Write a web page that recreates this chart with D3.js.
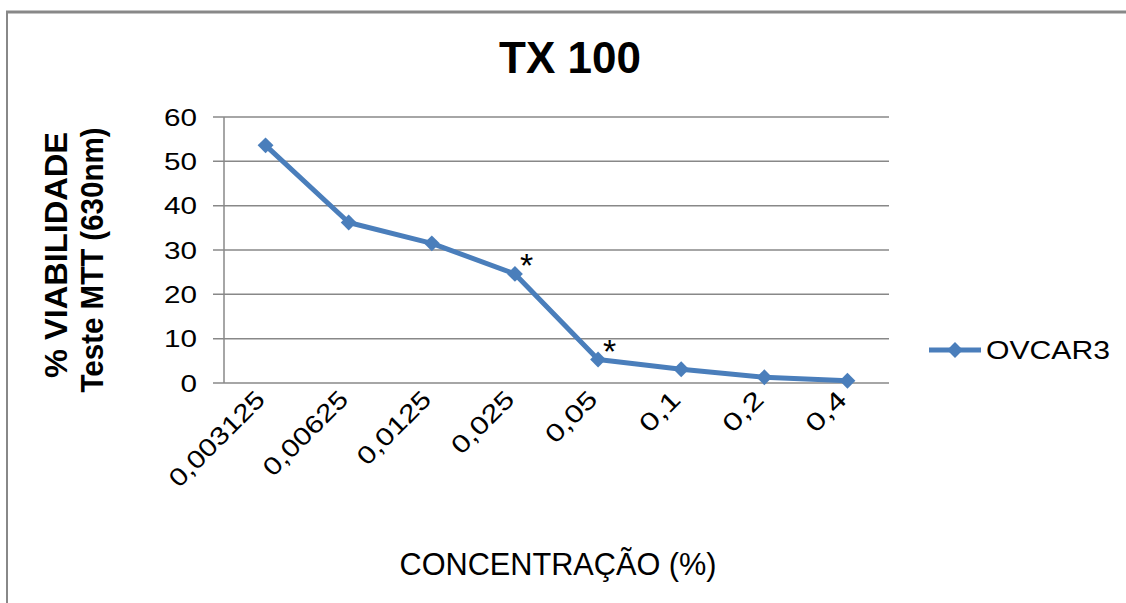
<!DOCTYPE html>
<html><head><meta charset="utf-8">
<script src="https://cdn.jsdelivr.net/npm/d3@7"></script>
<style>body{margin:0;background:#fff;} text{font-family:"Liberation Sans",Arial,sans-serif;}</style>
</head><body>
<svg id="c" width="1126" height="603"></svg>
<script>
const categories = ["0,003125","0,00625","0,0125","0,025","0,05","0,1","0,2","0,4"];
const values = [53.6, 36.2, 31.5, 24.6, 5.3, 3.1, 1.3, 0.5];
const significant = [false, false, false, true, true, false, false, false];
const yTicks = [0,10,20,30,40,50,60];
const seriesName = "OVCAR3";
const title = "TX 100";
const xTitle = "CONCENTRAÇÃO (%)";
const yTitle = ["% VIABILIDADE", "Teste MTT (630nm)"];

const svg = d3.select("#c");
svg.append("rect").attr("width",1126).attr("height",603).attr("fill","#fff");
// frame
svg.append("line").attr("x1",6).attr("x2",1126).attr("y1",12).attr("y2",12).attr("stroke","#888").attr("stroke-width",3);
svg.append("line").attr("x1",7).attr("x2",7).attr("y1",11).attr("y2",603).attr("stroke","#888").attr("stroke-width",2);

const L=224, R=889, T=117, B=383;
const x = d3.scalePoint().domain(categories).range([L,R]).padding(0.5);
const y = d3.scaleLinear().domain([0,60]).range([B,T]);
const col = "#4a7ebb";

// grid
svg.append("g").selectAll("line").data(yTicks).join("line")
  .attr("x1",213).attr("x2",R).attr("y1",d=>y(d)).attr("y2",d=>y(d))
  .attr("stroke","#888").attr("stroke-width",1.5);
svg.append("line").attr("x1",L).attr("x2",L).attr("y1",T).attr("y2",B).attr("stroke","#888").attr("stroke-width",1.5);

// y tick labels
svg.append("g").selectAll("text").data(yTicks).join("text")
  .attr("x",197).attr("y",d=>y(d)+8.5).attr("text-anchor","end")
  .attr("font-size",24).attr("textLength",d=>String(d).length*16.5).attr("lengthAdjust","spacingAndGlyphs")
  .text(d=>d);

// x tick labels
svg.append("g").selectAll("text").data(categories).join("text")
  .attr("transform",d=>`translate(${x(d)+1},${401}) rotate(-45)`)
  .attr("text-anchor","end").attr("font-size",25)
  .attr("textLength",d=>d.length*15.5).attr("lengthAdjust","spacingAndGlyphs")
  .text(d=>d);

// line
const line = d3.line().x((d,i)=>x(categories[i])).y(d=>y(d));
svg.append("path").datum(values).attr("d",line).attr("fill","none").attr("stroke",col).attr("stroke-width",5).attr("stroke-linejoin","round");
const diamond = d3.symbol().type(d3.symbolDiamond2).size(160);
svg.append("g").selectAll("path").data(values).join("path")
  .attr("transform",(d,i)=>`translate(${x(categories[i])},${y(d)})`)
  .attr("d",diamond).attr("fill",col);

// asterisks
svg.append("g").selectAll("text").data(values.map((v,i)=>({v,i})).filter(d=>significant[d.i])).join("text")
  .attr("x",d=>x(categories[d.i])+5).attr("y",d=>y(d.v)+3)
  .attr("font-size",34).text("*");

// title
svg.append("text").attr("x",570).attr("y",73).attr("text-anchor","middle").attr("font-size",44).attr("font-weight","bold").text(title);
// x title
svg.append("text").attr("x",558).attr("y",575).attr("text-anchor","middle").attr("font-size",32)
  .attr("textLength",317).attr("lengthAdjust","spacingAndGlyphs").text(xTitle);
// y title
svg.append("text").attr("transform","translate(67,255) rotate(-90)").attr("text-anchor","middle").attr("font-size",31).attr("font-weight","bold")
  .attr("textLength",246).attr("lengthAdjust","spacingAndGlyphs").text(yTitle[0]);
svg.append("text").attr("transform","translate(103,260) rotate(-90)").attr("text-anchor","middle").attr("font-size",31).attr("font-weight","bold")
  .attr("textLength",265).attr("lengthAdjust","spacingAndGlyphs").text(yTitle[1]);

// legend
svg.append("line").attr("x1",929).attr("x2",981).attr("y1",350).attr("y2",350).attr("stroke",col).attr("stroke-width",5);
svg.append("path").attr("transform","translate(955,350)").attr("d",diamond).attr("fill",col);
svg.append("text").attr("x",986).attr("y",359).attr("font-size",26).attr("textLength",124).attr("lengthAdjust","spacingAndGlyphs").text(seriesName);
</script>
</body></html>
